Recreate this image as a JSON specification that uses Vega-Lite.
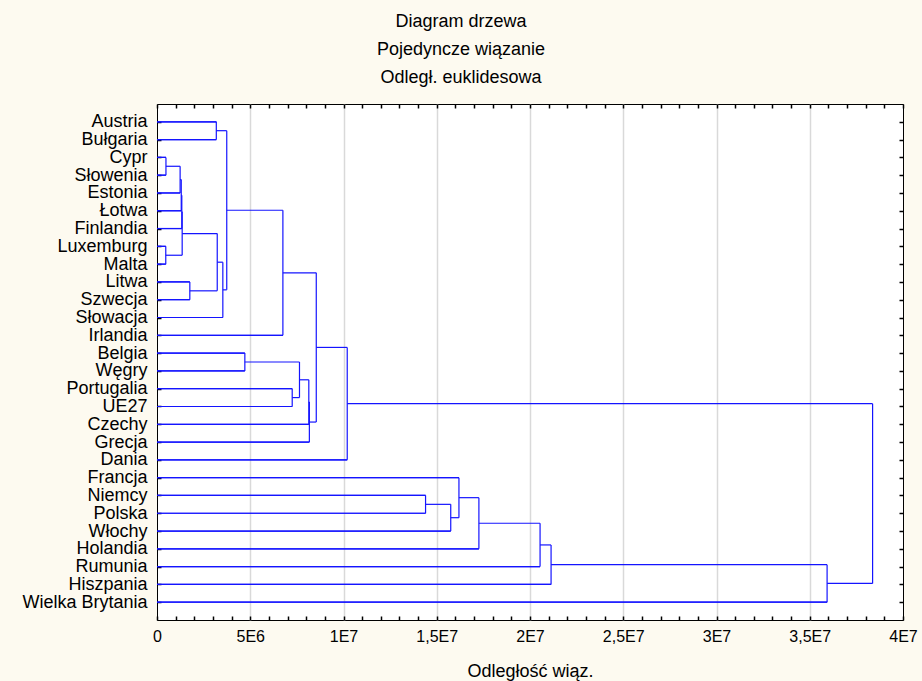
{
  "$schema": "https://vega.github.io/schema/vega-lite/v6.json",
  "width": 746,
  "height": 516,
  "autosize": {"type": "none"},
  "padding": {"left": 157, "top": 104, "right": 19, "bottom": 61},
  "background": "#fdfaf0",
  "config": {
    "view": {"stroke": "#000000", "strokeWidth": 1, "fill": "#ffffff"},
    "font": "Liberation Sans"
  },
  "title": {
    "text": ["Diagram drzewa", "Pojedyncze wiązanie", "Odległ. euklidesowa"],
    "font": "Liberation Sans",
    "fontSize": 18,
    "fontWeight": "normal",
    "color": "#000000",
    "lineHeight": 28,
    "anchor": "middle",
    "frame": "group",
    "dx": -69,
    "offset": 16
  },
  "datasets": {
    "leaves": [
      {"name": "Austria", "h": 3180000},
      {"name": "Bułgaria", "h": 3180000},
      {"name": "Cypr", "h": 480000},
      {"name": "Słowenia", "h": 480000},
      {"name": "Estonia", "h": 1240000},
      {"name": "Łotwa", "h": 1300000},
      {"name": "Finlandia", "h": 1330000},
      {"name": "Luxemburg", "h": 470000},
      {"name": "Malta", "h": 470000},
      {"name": "Litwa", "h": 1760000},
      {"name": "Szwecja", "h": 1760000},
      {"name": "Słowacja", "h": 3530000},
      {"name": "Irlandia", "h": 6750000},
      {"name": "Belgia", "h": 4710000},
      {"name": "Węgry", "h": 4710000},
      {"name": "Portugalia", "h": 7250000},
      {"name": "UE27", "h": 7250000},
      {"name": "Czechy", "h": 8140000},
      {"name": "Grecja", "h": 8170000},
      {"name": "Dania", "h": 10200000},
      {"name": "Francja", "h": 16190000},
      {"name": "Niemcy", "h": 14400000},
      {"name": "Polska", "h": 14400000},
      {"name": "Włochy", "h": 15750000},
      {"name": "Holandia", "h": 17260000},
      {"name": "Rumunia", "h": 20540000},
      {"name": "Hiszpania", "h": 21130000},
      {"name": "Wielka Brytania", "h": 35930000}
    ],
    "nodes": [
      {"node": "N1", "h": 3180000, "ya": 0, "yb": 1, "ym": 0.5, "ph": 3740000},
      {"node": "N2", "h": 480000, "ya": 2, "yb": 3, "ym": 2.5, "ph": 1240000},
      {"node": "N3", "h": 1240000, "ya": 2.5, "yb": 4, "ym": 3.25, "ph": 1300000},
      {"node": "N4", "h": 1300000, "ya": 3.25, "yb": 5, "ym": 4.125, "ph": 1330000},
      {"node": "N5", "h": 1330000, "ya": 4.125, "yb": 6, "ym": 5.0625, "ph": 1350000},
      {"node": "N6", "h": 470000, "ya": 7, "yb": 8, "ym": 7.5, "ph": 1350000},
      {"node": "N7", "h": 1350000, "ya": 5.0625, "yb": 7.5, "ym": 6.28125, "ph": 3230000},
      {"node": "N8", "h": 1760000, "ya": 9, "yb": 10, "ym": 9.5, "ph": 3230000},
      {"node": "N9", "h": 3230000, "ya": 6.28125, "yb": 9.5, "ym": 7.890625, "ph": 3530000},
      {"node": "N10", "h": 3530000, "ya": 7.890625, "yb": 11, "ym": 9.4453125, "ph": 3740000},
      {"node": "N11", "h": 3740000, "ya": 0.5, "yb": 9.4453125, "ym": 4.97265625, "ph": 6750000},
      {"node": "N12", "h": 6750000, "ya": 4.97265625, "yb": 12, "ym": 8.486328, "ph": 8540000},
      {"node": "N13", "h": 4710000, "ya": 13, "yb": 14, "ym": 13.5, "ph": 7640000},
      {"node": "N14", "h": 7250000, "ya": 15, "yb": 16, "ym": 15.5, "ph": 7640000},
      {"node": "N15", "h": 7640000, "ya": 13.5, "yb": 15.5, "ym": 14.5, "ph": 8140000},
      {"node": "N16", "h": 8140000, "ya": 14.5, "yb": 17, "ym": 15.75, "ph": 8170000},
      {"node": "N17", "h": 8170000, "ya": 15.75, "yb": 18, "ym": 16.875, "ph": 8540000},
      {"node": "N18", "h": 8540000, "ya": 8.486328, "yb": 16.875, "ym": 12.680664, "ph": 10200000},
      {"node": "N19", "h": 10200000, "ya": 12.680664, "yb": 19, "ym": 15.840332, "ph": 38370000},
      {"node": "N20", "h": 14400000, "ya": 21, "yb": 22, "ym": 21.5, "ph": 15750000},
      {"node": "N21", "h": 15750000, "ya": 21.5, "yb": 23, "ym": 22.25, "ph": 16190000},
      {"node": "N22", "h": 16190000, "ya": 20, "yb": 22.25, "ym": 21.125, "ph": 17260000},
      {"node": "N23", "h": 17260000, "ya": 21.125, "yb": 24, "ym": 22.5625, "ph": 20540000},
      {"node": "N24", "h": 20540000, "ya": 22.5625, "yb": 25, "ym": 23.78125, "ph": 21130000},
      {"node": "N25", "h": 21130000, "ya": 23.78125, "yb": 26, "ym": 24.890625, "ph": 35930000},
      {"node": "N26", "h": 35930000, "ya": 24.890625, "yb": 27, "ym": 25.9453125, "ph": 38370000},
      {"node": "N27", "h": 38370000, "ya": 15.840332, "yb": 25.9453125, "ym": 20.892822, "ph": null}
    ]
  },
  "layer": [
    {
      "data": {"name": "leaves"},
      "mark": {"type": "rule", "color": "#1414ff", "strokeWidth": 1.2},
      "encoding": {
        "y": {
          "field": "name", "type": "nominal", "sort": null,
          "scale": {"type": "point", "padding": 1},
          "axis": {
            "orient": "left", "title": null, "domain": false,
            "tickSize": -4, "tickColor": "#000000", "tickWidth": 1.5,
            "labelPadding": 14, "labelFont": "Liberation Sans", "labelFontSize": 18,
            "labelColor": "#000000", "labelLimit": 300
          }
        },
        "x": {
          "field": "h", "type": "quantitative",
          "scale": {"domain": [0, 40000000], "nice": false, "zero": true},
          "axis": {
            "orient": "bottom",
            "values": [0, 1000000, 2000000, 3000000, 4000000, 5000000, 6000000, 7000000, 8000000, 9000000, 10000000, 11000000, 12000000, 13000000, 14000000, 15000000, 16000000, 17000000, 18000000, 19000000, 20000000, 21000000, 22000000, 23000000, 24000000, 25000000, 26000000, 27000000, 28000000, 29000000, 30000000, 31000000, 32000000, 33000000, 34000000, 35000000, 36000000, 37000000, 38000000, 39000000, 40000000],
            "labelExpr": "datum.value % 5000000 == 0 ? (datum.value == 0 ? '0' : replace(replace(format(datum.value, '.2~e'), 'e+', 'E'), '.', ',')) : ''",
            "domain": false,
            "tickSize": -4, "tickColor": "#000000", "tickWidth": 1.5,
            "labelPadding": 12, "labelFont": "Liberation Sans", "labelFontSize": 16,
            "labelColor": "#000000", "labelFlush": false, "labelOverlap": false,
            "grid": true,
            "gridColor": {"condition": {"test": "datum.value % 5000000 == 0 && datum.value > 0 && datum.value < 40000000", "value": "#d9d9d9"}, "value": "transparent"},
            "gridWidth": 1.5,
            "title": "Odległość wiąz.",
            "titleFont": "Liberation Sans", "titleFontSize": 18, "titleFontWeight": "normal",
            "titleColor": "#000000", "titlePadding": 18
          }
        },
        "x2": {"datum": 0}
      }
    },
    {
      "data": {"name": "leaves"},
      "mark": {"type": "rule", "color": "#1414ff", "strokeWidth": 1.2},
      "encoding": {
        "y": {
          "field": "name", "type": "nominal", "sort": null,
          "scale": {"type": "point", "padding": 1},
          "axis": {
            "orient": "right", "title": null, "domain": false, "labels": false,
            "tickSize": -4, "tickColor": "#000000", "tickWidth": 1.5
          }
        },
        "x": {
          "field": "h", "type": "quantitative",
          "axis": {
            "orient": "top",
            "values": [0, 1000000, 2000000, 3000000, 4000000, 5000000, 6000000, 7000000, 8000000, 9000000, 10000000, 11000000, 12000000, 13000000, 14000000, 15000000, 16000000, 17000000, 18000000, 19000000, 20000000, 21000000, 22000000, 23000000, 24000000, 25000000, 26000000, 27000000, 28000000, 29000000, 30000000, 31000000, 32000000, 33000000, 34000000, 35000000, 36000000, 37000000, 38000000, 39000000, 40000000],
            "labels": false, "domain": false, "grid": false, "title": null,
            "tickSize": -4, "tickColor": "#000000", "tickWidth": 1.5
          }
        },
        "x2": {"datum": 0}
      }
    },
    {
      "data": {"name": "nodes"},
      "mark": {"type": "rule", "color": "#1414ff", "strokeWidth": 1.2},
      "encoding": {
        "x": {"field": "h", "type": "quantitative", "axis": null},
        "y": {
          "field": "ya", "type": "quantitative",
          "scale": {"domain": [-1, 28], "reverse": true, "nice": false, "zero": false},
          "axis": null
        },
        "y2": {"field": "yb"}
      }
    },
    {
      "data": {"name": "nodes"},
      "transform": [{"filter": {"field": "ph", "valid": true}}],
      "mark": {"type": "rule", "color": "#1414ff", "strokeWidth": 1.2},
      "encoding": {
        "x": {"field": "h", "type": "quantitative", "axis": null},
        "x2": {"field": "ph"},
        "y": {
          "field": "ym", "type": "quantitative",
          "scale": {"domain": [-1, 28], "reverse": true, "nice": false, "zero": false},
          "axis": null
        }
      }
    }
  ],
  "resolve": {
    "scale": {"y": "independent"},
    "axis": {"x": "independent", "y": "independent"}
  }
}
